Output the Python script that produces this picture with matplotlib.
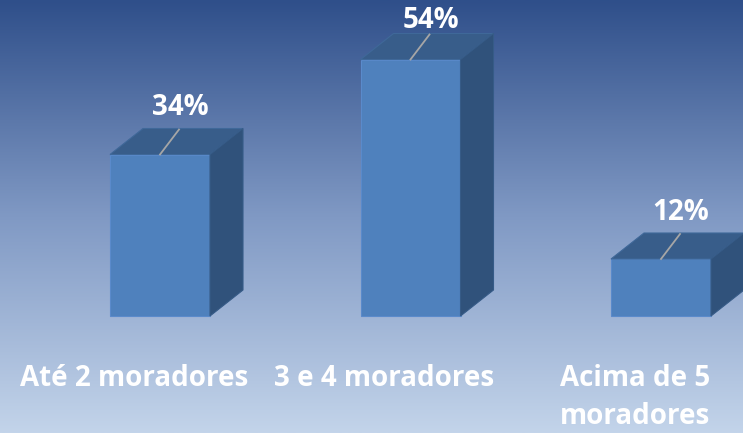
import numpy as np
import matplotlib.pyplot as plt
from matplotlib.patches import Polygon

categories = ['Até 2 moradores', '3 e 4 moradores', 'Acima de 5\nmoradores']
values = [34, 54, 12]
labels = ['34%', '54%', '12%']

fig = plt.figure(figsize=(7.43, 4.33), dpi=100)
ax = fig.add_axes([0, 0, 1, 1])

# gradiente de fundo
top = np.array([0x2f, 0x4f, 0x8a]) / 255
mid = np.array([0x80, 0x99, 0xc4]) / 255
bot = np.array([0xc3, 0xd4, 0xea]) / 255
t = np.linspace(0, 1, 256)[:, None]
grad = np.where(t < 0.5, top + (mid - top) * (t / 0.5), mid + (bot - mid) * ((t - 0.5) / 0.5))
ax.imshow(grad[:, None, :], aspect='auto', extent=[0, 1, 0, 1],
          transform=ax.transAxes, zorder=0)

ppx = 250.5          # pixels por categoria
ppy = 4.75           # pixels por %
ax.set_xlim(-160 / ppx, (743 - 160) / ppx)
ax.set_ylim(-117 / ppy, (433 - 117) / ppy)
ax.axis('off')

w = 100 / ppx
dx = 33 / ppx
dy = 26 / ppy
front_c = '#4f81bd'
top_c = '#385d8a'
side_c = '#30527b'
fonte = dict(color='white', fontsize=20, fontweight='bold', family='Open Sans', zorder=5)
y_max_rotulo = (433 - 117 - 20) / ppy   # rótulo não passa do topo

for i, v in enumerate(values):
    x0, x1 = i - w / 2, i + w / 2
    ax.add_patch(Polygon([(x0, 0), (x1, 0), (x1, v), (x0, v)],
                         facecolor=front_c, edgecolor='#5a8acb', lw=0.8, zorder=3))
    ax.add_patch(Polygon([(x0, v), (x1, v), (x1 + dx, v + dy), (x0 + dx, v + dy)],
                         facecolor=top_c, edgecolor='#3f6899', lw=0.8, zorder=3))
    ax.add_patch(Polygon([(x1, 0), (x1 + dx, dy), (x1 + dx, v + dy), (x1, v)],
                         facecolor=side_c, edgecolor='#365b87', lw=0.8, zorder=3))
    # linha guia do rótulo
    ax.plot([i, i + 19 / ppx], [v, v + 25 / ppy], color='#a6a6a6', lw=1.3, zorder=4)
    ax.text(i + 20 / ppx, min(v + 47 / ppy, y_max_rotulo), labels[i],
            ha='center', va='center', **fonte)
    ax.text(i - 26 / ppx, -48 / ppy, categories[i], ha='center', va='top',
            linespacing=1.4, **fonte)

fig.savefig('out.png', dpi=100)
